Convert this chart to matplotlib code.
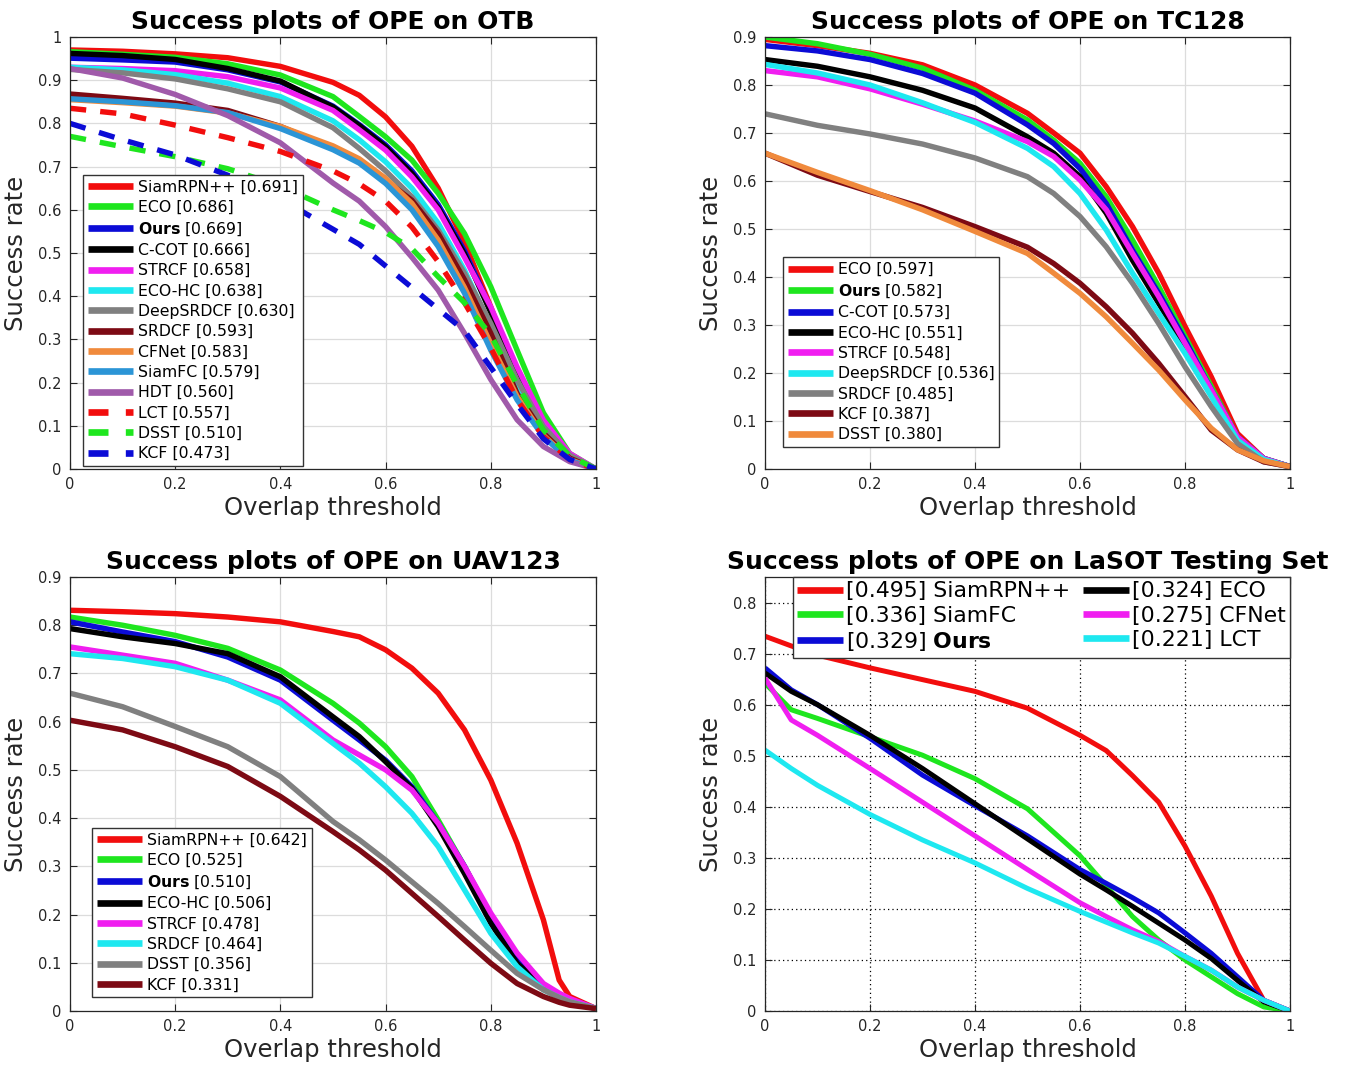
import matplotlib
matplotlib.use('Agg')
import matplotlib.pyplot as plt

# ---------------- data ----------------
# OTB / TC128 / UAV123 share the same threshold grid
thr = [0, 0.1, 0.2, 0.3, 0.4, 0.5, 0.55, 0.6, 0.65, 0.7, 0.75, 0.8, 0.85, 0.9, 0.95, 1.0]

otb_names = ['SiamRPN++ [0.691]', 'ECO [0.686]', r'$\bf{Ours}$ [0.669]', 'C-COT [0.666]',
             'STRCF [0.658]', 'ECO-HC [0.638]', 'DeepSRDCF [0.630]', 'SRDCF [0.593]',
             'CFNet [0.583]', 'SiamFC [0.579]', 'HDT [0.560]', 'LCT [0.557]',
             'DSST [0.510]', 'KCF [0.473]']
otb_siamrpn = [0.970, 0.967, 0.961, 0.952, 0.932, 0.895, 0.865, 0.815, 0.747, 0.650, 0.525, 0.375, 0.215, 0.088, 0.025, 0.0]
otb_eco = [0.966, 0.960, 0.953, 0.938, 0.912, 0.862, 0.816, 0.769, 0.715, 0.638, 0.545, 0.422, 0.275, 0.130, 0.036, 0.0]
otb_ours = [0.951, 0.947, 0.942, 0.924, 0.896, 0.840, 0.797, 0.750, 0.690, 0.612, 0.505, 0.370, 0.222, 0.105, 0.032, 0.0]
otb_ccot = [0.962, 0.957, 0.948, 0.927, 0.898, 0.838, 0.795, 0.746, 0.684, 0.605, 0.498, 0.362, 0.215, 0.100, 0.030, 0.0]
otb_strcf = [0.930, 0.927, 0.922, 0.908, 0.882, 0.830, 0.785, 0.738, 0.676, 0.600, 0.490, 0.375, 0.236, 0.113, 0.036, 0.0]
otb_ecohc = [0.930, 0.924, 0.913, 0.893, 0.862, 0.806, 0.762, 0.711, 0.650, 0.569, 0.460, 0.330, 0.198, 0.098, 0.028, 0.0]
otb_deepsrdcf = [0.925, 0.917, 0.903, 0.880, 0.850, 0.790, 0.742, 0.690, 0.630, 0.553, 0.453, 0.337, 0.206, 0.098, 0.032, 0.0]
otb_srdcf = [0.868, 0.858, 0.847, 0.830, 0.793, 0.742, 0.710, 0.668, 0.622, 0.545, 0.438, 0.314, 0.175, 0.083, 0.025, 0.0]
otb_cfnet = [0.855, 0.848, 0.840, 0.824, 0.793, 0.748, 0.718, 0.673, 0.615, 0.530, 0.420, 0.290, 0.168, 0.078, 0.022, 0.0]
otb_siamfc = [0.857, 0.850, 0.841, 0.825, 0.788, 0.739, 0.708, 0.661, 0.600, 0.515, 0.407, 0.275, 0.160, 0.075, 0.020, 0.0]
otb_hdt = [0.927, 0.905, 0.867, 0.818, 0.755, 0.662, 0.620, 0.561, 0.490, 0.414, 0.314, 0.207, 0.114, 0.052, 0.017, 0.0]
otb_lct = [0.835, 0.822, 0.796, 0.767, 0.735, 0.690, 0.660, 0.620, 0.560, 0.480, 0.385, 0.280, 0.160, 0.075, 0.022, 0.0]
otb_dsst = [0.770, 0.746, 0.723, 0.695, 0.655, 0.600, 0.575, 0.548, 0.510, 0.445, 0.385, 0.310, 0.195, 0.090, 0.030, 0.0]
otb_kcf = [0.800, 0.762, 0.727, 0.680, 0.625, 0.555, 0.520, 0.470, 0.420, 0.370, 0.320, 0.235, 0.150, 0.070, 0.022, 0.0]

tc_names = ['ECO [0.597]', r'$\bf{Ours}$ [0.582]', 'C-COT [0.573]', 'ECO-HC [0.551]',
            'STRCF [0.548]', 'DeepSRDCF [0.536]', 'SRDCF [0.485]', 'KCF [0.387]', 'DSST [0.380]']
tc_eco = [0.895, 0.882, 0.866, 0.842, 0.800, 0.741, 0.700, 0.658, 0.588, 0.505, 0.408, 0.297, 0.192, 0.074, 0.022, 0.005]
tc_ours = [0.900, 0.886, 0.864, 0.835, 0.789, 0.727, 0.685, 0.637, 0.567, 0.477, 0.380, 0.276, 0.172, 0.067, 0.022, 0.005]
tc_ccot = [0.882, 0.871, 0.853, 0.824, 0.783, 0.717, 0.678, 0.626, 0.553, 0.456, 0.366, 0.269, 0.165, 0.067, 0.022, 0.005]
tc_ecohc = [0.853, 0.839, 0.817, 0.789, 0.752, 0.692, 0.658, 0.609, 0.533, 0.435, 0.345, 0.255, 0.158, 0.064, 0.020, 0.005]
tc_strcf = [0.830, 0.817, 0.792, 0.760, 0.725, 0.682, 0.651, 0.602, 0.540, 0.449, 0.359, 0.262, 0.165, 0.067, 0.022, 0.005]
tc_deepsrdcf = [0.843, 0.825, 0.800, 0.763, 0.722, 0.668, 0.630, 0.574, 0.498, 0.408, 0.324, 0.241, 0.151, 0.060, 0.020, 0.005]
tc_srdcf = [0.740, 0.716, 0.698, 0.677, 0.648, 0.609, 0.574, 0.526, 0.463, 0.387, 0.303, 0.213, 0.130, 0.053, 0.015, 0.005]
tc_kcf = [0.658, 0.612, 0.578, 0.545, 0.505, 0.462, 0.428, 0.387, 0.338, 0.283, 0.220, 0.151, 0.081, 0.040, 0.015, 0.005]
tc_dsst = [0.658, 0.618, 0.580, 0.540, 0.495, 0.449, 0.408, 0.366, 0.317, 0.262, 0.206, 0.144, 0.085, 0.040, 0.017, 0.005]

# UAV123 has one more point near 0.93 where SiamRPN++ drops sharply
thr_uav = [0, 0.1, 0.2, 0.3, 0.4, 0.5, 0.55, 0.6, 0.65, 0.7, 0.75, 0.8, 0.85, 0.9, 0.93, 0.95, 1.0]
uav_names = ['SiamRPN++ [0.642]', 'ECO [0.525]', r'$\bf{Ours}$ [0.510]', 'ECO-HC [0.506]',
             'STRCF [0.478]', 'SRDCF [0.464]', 'DSST [0.356]', 'KCF [0.331]']
uav_siamrpn = [0.831, 0.828, 0.824, 0.817, 0.807, 0.787, 0.776, 0.749, 0.711, 0.659, 0.583, 0.479, 0.348, 0.189, 0.064, 0.030, 0.005]
uav_eco = [0.817, 0.800, 0.779, 0.752, 0.707, 0.638, 0.597, 0.548, 0.486, 0.396, 0.300, 0.196, 0.106, 0.050, 0.033, 0.023, 0.005]
uav_ours = [0.807, 0.786, 0.766, 0.734, 0.686, 0.603, 0.562, 0.520, 0.465, 0.389, 0.300, 0.196, 0.113, 0.054, 0.035, 0.023, 0.005]
uav_ecohc = [0.793, 0.776, 0.762, 0.741, 0.693, 0.610, 0.569, 0.517, 0.462, 0.382, 0.285, 0.182, 0.099, 0.050, 0.032, 0.020, 0.005]
uav_strcf = [0.755, 0.738, 0.721, 0.686, 0.645, 0.562, 0.531, 0.500, 0.458, 0.389, 0.300, 0.203, 0.120, 0.057, 0.037, 0.026, 0.005]
uav_srdcf = [0.741, 0.731, 0.714, 0.686, 0.638, 0.555, 0.514, 0.465, 0.410, 0.341, 0.251, 0.161, 0.092, 0.044, 0.028, 0.019, 0.005]
uav_dsst = [0.659, 0.631, 0.590, 0.548, 0.486, 0.393, 0.355, 0.313, 0.268, 0.223, 0.175, 0.126, 0.078, 0.044, 0.028, 0.019, 0.005]
uav_kcf = [0.603, 0.583, 0.548, 0.507, 0.445, 0.372, 0.334, 0.292, 0.244, 0.196, 0.147, 0.099, 0.057, 0.030, 0.018, 0.012, 0.005]

# LaSOT curves are coarser (piecewise linear)
thr_lasot = [0, 0.05, 0.1, 0.2, 0.3, 0.4, 0.5, 0.6, 0.65, 0.7, 0.75, 0.8, 0.85, 0.9, 0.95, 1.0]
lasot_names = ['[0.495] SiamRPN++', '[0.336] SiamFC', r'[0.329] $\bf{Ours}$',
               '[0.324] ECO', '[0.275] CFNet', '[0.221] LCT']
lasot_siamrpn = [0.734, 0.715, 0.697, 0.672, 0.649, 0.626, 0.593, 0.540, 0.510, 0.461, 0.409, 0.323, 0.225, 0.113, 0.021, 0.0]
lasot_siamfc = [0.642, 0.590, 0.573, 0.537, 0.501, 0.455, 0.396, 0.304, 0.245, 0.185, 0.139, 0.100, 0.067, 0.034, 0.008, 0.0]
lasot_ours = [0.672, 0.629, 0.600, 0.534, 0.462, 0.402, 0.343, 0.277, 0.250, 0.222, 0.192, 0.153, 0.113, 0.067, 0.021, 0.0]
lasot_eco = [0.662, 0.626, 0.600, 0.540, 0.475, 0.406, 0.337, 0.268, 0.237, 0.205, 0.172, 0.139, 0.103, 0.060, 0.018, 0.0]
lasot_cfnet = [0.652, 0.570, 0.540, 0.475, 0.409, 0.343, 0.277, 0.212, 0.185, 0.159, 0.136, 0.107, 0.080, 0.047, 0.021, 0.0]
lasot_lct = [0.511, 0.475, 0.442, 0.385, 0.335, 0.290, 0.240, 0.195, 0.174, 0.153, 0.133, 0.107, 0.080, 0.047, 0.021, 0.0]

# MATLAB-like colours
RED, GREEN, BLUE, BLACK = '#f20d0d', '#1ee61e', '#0b0bd6', '#000000'
MAG, CYAN, GRAY, DRED = '#f01ef0', '#1ee8f0', '#808080', '#7d0a14'
ORANGE, SKY, PURPLE = '#f08a3c', '#2b95d6', '#a05aaa'


def style_axes(ax, ymax, yticks, dotted=False):
    ax.set_xlim(0, 1)
    ax.set_ylim(0, ymax)
    ax.set_xticks([0, 0.2, 0.4, 0.6, 0.8, 1])
    ax.set_xticklabels(['0', '0.2', '0.4', '0.6', '0.8', '1'])
    ax.set_yticks(yticks)
    ax.set_yticklabels(['%g' % t for t in yticks])
    ax.tick_params(direction='in', top=True, right=True, labelsize=10.5,
                   length=5, width=0.8, colors='#262626', pad=6)
    for sp in ax.spines.values():
        sp.set_color('#262626')
        sp.set_linewidth(0.9)
    if dotted:
        ax.grid(True, color='black', linestyle=(0, (1, 2.5)), linewidth=0.9)
    else:
        ax.grid(True, color='#dcdcdc', linestyle='-', linewidth=0.9)
    ax.set_axisbelow(True)
    ax.set_xlabel('Overlap threshold', fontsize=17.5, color='#262626', labelpad=3)
    ax.set_ylabel('Success rate', fontsize=17.5, color='#262626', labelpad=7)


def draw(ax, xs, series, names, lw=3.9):
    for (ys, color, ls), name in zip(series, names):
        ax.plot(xs, ys, color=color, linestyle=ls, linewidth=lw, label=name,
                solid_capstyle='butt', dash_capstyle='butt')


fig = plt.figure(figsize=(13.59, 10.72), dpi=100)
fig.patch.set_facecolor('white')

ax1 = fig.add_axes([70 / 1359, 1 - 469 / 1072, 526 / 1359, 432 / 1072])
ax2 = fig.add_axes([765 / 1359, 1 - 469 / 1072, 525 / 1359, 432 / 1072])
ax3 = fig.add_axes([70 / 1359, 1 - 1011 / 1072, 526 / 1359, 434 / 1072])
ax4 = fig.add_axes([765 / 1359, 1 - 1011 / 1072, 525 / 1359, 434 / 1072])

dash = (0, (3.0, 2.6))
otb = [(otb_siamrpn, RED, '-'), (otb_eco, GREEN, '-'), (otb_ours, BLUE, '-'),
       (otb_ccot, BLACK, '-'), (otb_strcf, MAG, '-'), (otb_ecohc, CYAN, '-'),
       (otb_deepsrdcf, GRAY, '-'), (otb_srdcf, DRED, '-'), (otb_cfnet, ORANGE, '-'),
       (otb_siamfc, SKY, '-'), (otb_hdt, PURPLE, '-'), (otb_lct, RED, dash),
       (otb_dsst, GREEN, dash), (otb_kcf, BLUE, dash)]
draw(ax1, thr, otb, otb_names)
style_axes(ax1, 1.0, [0, 0.1, 0.2, 0.3, 0.4, 0.5, 0.6, 0.7, 0.8, 0.9, 1])
ax1.set_title('Success plots of OPE on OTB', fontsize=18, fontweight='bold', pad=6)

tc = [(tc_eco, RED, '-'), (tc_ours, GREEN, '-'), (tc_ccot, BLUE, '-'),
      (tc_ecohc, BLACK, '-'), (tc_strcf, MAG, '-'), (tc_deepsrdcf, CYAN, '-'),
      (tc_srdcf, GRAY, '-'), (tc_kcf, DRED, '-'), (tc_dsst, ORANGE, '-')]
draw(ax2, thr, tc, tc_names)
style_axes(ax2, 0.9, [0, 0.1, 0.2, 0.3, 0.4, 0.5, 0.6, 0.7, 0.8, 0.9])
ax2.set_title('Success plots of OPE on TC128', fontsize=18, fontweight='bold', pad=6)

uav = [(uav_siamrpn, RED, '-'), (uav_eco, GREEN, '-'), (uav_ours, BLUE, '-'),
       (uav_ecohc, BLACK, '-'), (uav_strcf, MAG, '-'), (uav_srdcf, CYAN, '-'),
       (uav_dsst, GRAY, '-'), (uav_kcf, DRED, '-')]
draw(ax3, thr_uav, uav, uav_names)
style_axes(ax3, 0.9, [0, 0.1, 0.2, 0.3, 0.4, 0.5, 0.6, 0.7, 0.8, 0.9])
ax3.set_title('Success plots of OPE on UAV123', fontsize=18, fontweight='bold', pad=6)

las = [(lasot_siamrpn, RED, '-'), (lasot_siamfc, GREEN, '-'), (lasot_ours, BLUE, '-'),
       (lasot_eco, BLACK, '-'), (lasot_cfnet, MAG, '-'), (lasot_lct, CYAN, '-')]
draw(ax4, thr_lasot, las, lasot_names, lw=3.6)
style_axes(ax4, 0.85, [0, 0.1, 0.2, 0.3, 0.4, 0.5, 0.6, 0.7, 0.8], dotted=True)
ax4.set_title('Success plots of OPE on LaSOT Testing Set', fontsize=18, fontweight='bold', pad=6)

# legends
leg_kw = dict(frameon=True, fancybox=False, framealpha=1, edgecolor='#333333',
              borderaxespad=0, handlelength=2.9, handletextpad=0.3,
              borderpad=0.3, labelspacing=0.34, fontsize=11.3)
l1 = ax1.legend(loc='lower left', bbox_to_anchor=(0.025, 0.007), **leg_kw)
l2 = ax2.legend(loc='lower left', bbox_to_anchor=(0.034, 0.051), **leg_kw)
l3 = ax3.legend(loc='lower left', bbox_to_anchor=(0.042, 0.032), **leg_kw)
l4 = ax4.legend(loc='upper right', bbox_to_anchor=(1.0, 1.0), fontsize=15.8, ncol=2,
                columnspacing=0.6, frameon=True, fancybox=False, framealpha=1,
                edgecolor='#333333', borderaxespad=0, handlelength=2.1,
                handletextpad=0.12, borderpad=0.2, labelspacing=0.2)
for leg in (l1, l2, l3, l4):
    leg.get_frame().set_linewidth(1.0)
    for h in leg.get_lines():
        h.set_linewidth(4.8)

fig.savefig('out.png', dpi=100, facecolor='white')
